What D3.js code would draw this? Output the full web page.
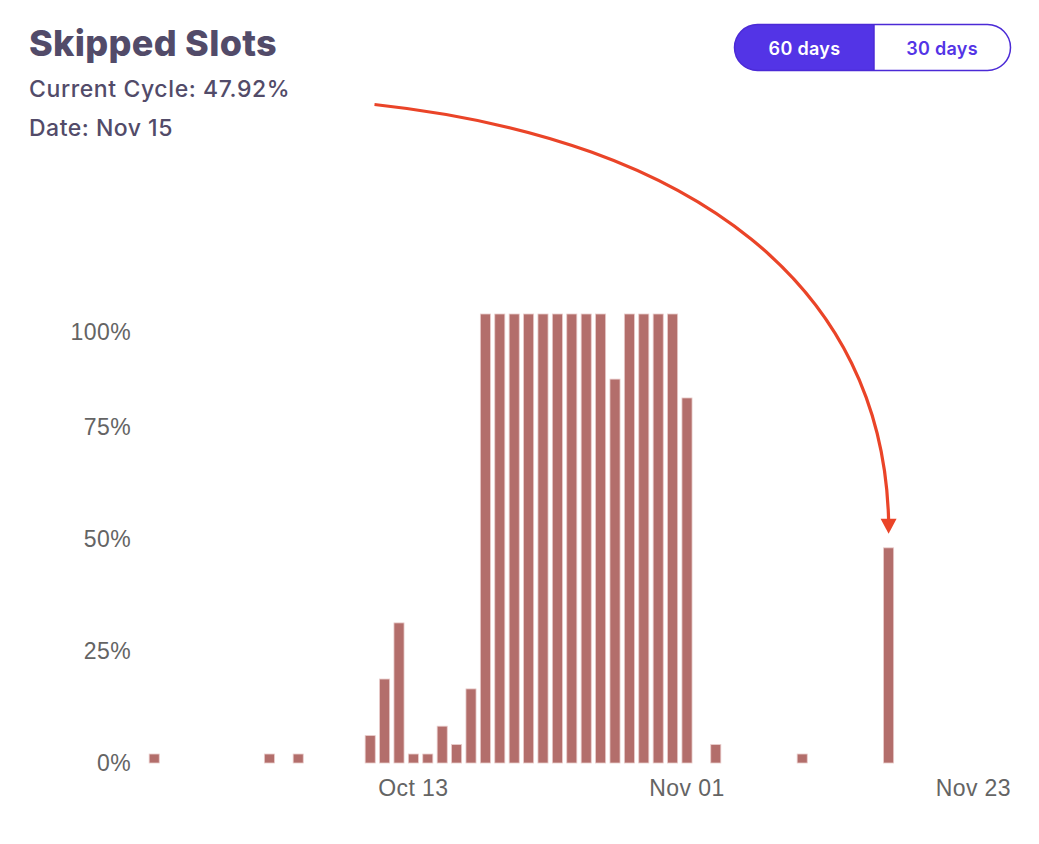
<!DOCTYPE html>
<html>
<head>
<meta charset="utf-8">
<script src="https://cdn.jsdelivr.net/npm/d3@7"></script>
<style>
  body { margin: 0; background: #fff; }
  svg { display: block; font-family: Inter, "Open Sans", sans-serif; }
  .tick text { fill: #646464; font-size: 23px; font-weight: 500; letter-spacing: 0.4px; }
</style>
</head>
<body>
<div id="chart"></div>
<script>
// Chart data
var startDay = "2023-09-25";
var endDay = "2023-11-23";
var barDays = ["2023-09-25", "2023-10-03", "2023-10-05", "2023-10-10", "2023-10-11",
  "2023-10-12", "2023-10-13", "2023-10-14", "2023-10-15", "2023-10-16", "2023-10-17",
  "2023-10-18", "2023-10-19", "2023-10-20", "2023-10-21", "2023-10-22", "2023-10-23",
  "2023-10-24", "2023-10-25", "2023-10-26", "2023-10-27", "2023-10-28", "2023-10-29",
  "2023-10-30", "2023-10-31", "2023-11-01", "2023-11-03", "2023-11-09", "2023-11-15"];
var skipped = [2, 2, 2, 6.1, 18.7,
  31.2, 2, 2, 8.2, 4.1, 16.5,
  100, 100, 100, 100, 100, 100,
  100, 100, 100, 85.5, 100, 100,
  100, 100, 81.3, 4.1, 2, 47.92];
var yTicks = [0, 0.25, 0.5, 0.75, 1];
var xTicks = ["2023-10-13", "2023-11-01", "2023-11-23"];
var buttons = ["60 days", "30 days"];

var svgWidth = 1039;
var svgHeight = 844;

var margin = { top: 314, right: 28, bottom: 81, left: 147 };
var width = svgWidth - margin.left - margin.right;
var height = svgHeight - margin.top - margin.bottom;

var parseDay = d3.utcParse("%Y-%m-%d");
var fmtDay = d3.utcFormat("%Y-%m-%d");
var labelDay = d3.utcFormat("%b %d");

// every day of the 60 day window is a band
var allDays = d3.utcDay.range(parseDay(startDay), d3.utcDay.offset(parseDay(endDay), 1)).map(fmtDay);

var barData = barDays.map(function(d, i) {
  return { day: d, value: skipped[i] / 100 };
});

var svg = d3.select("#chart")
  .append("svg")
  .attr("width", svgWidth)
  .attr("height", svgHeight);

// Header
svg.append("text")
  .attr("x", 29).attr("y", 56)
  .attr("fill", "#524b69")
  .attr("font-size", 36)
  .attr("font-weight", 800)
  .attr("letter-spacing", 0.3)
  .text("Skipped Slots");

svg.append("text")
  .attr("x", 29).attr("y", 97)
  .attr("fill", "#524b69")
  .attr("font-size", 23)
  .attr("font-weight", 500)
  .attr("letter-spacing", 0.6)
  .text("Current Cycle: 47.92%");

svg.append("text")
  .attr("x", 29).attr("y", 136)
  .attr("fill", "#524b69")
  .attr("font-size", 23)
  .attr("font-weight", 500)
  .attr("letter-spacing", 0.5)
  .text("Date: Nov 15");

// Toggle buttons
var btn = svg.append("g").attr("transform", "translate(734.5, 24.5)");
btn.append("path")
  .attr("d", "M23,0 H139.5 V46 H23 A23,23 0 0 1 23,0 Z")
  .attr("fill", "#5334e6");
btn.append("rect")
  .attr("width", 276).attr("height", 46)
  .attr("rx", 23)
  .attr("fill", "none")
  .attr("stroke", "#4b2ad6")
  .attr("stroke-width", 1.5);
btn.append("line")
  .attr("x1", 139.5).attr("x2", 139.5)
  .attr("y1", 0).attr("y2", 46)
  .attr("stroke", "#4b2ad6")
  .attr("stroke-width", 1.5);
btn.selectAll("text.btn")
  .data(buttons)
  .enter()
  .append("text")
  .attr("class", "btn")
  .attr("x", (d, i) => i === 0 ? 70 : 207.5)
  .attr("y", 30)
  .attr("text-anchor", "middle")
  .attr("font-size", 18)
  .attr("font-weight", 600)
  .attr("letter-spacing", 0.3)
  .attr("fill", (d, i) => i === 0 ? "#ffffff" : "#5334e6")
  .text(d => d);

var chartGroup = svg.append("g")
  .attr("transform", `translate(${margin.left}, ${margin.top})`);

// Scales
var xScale = d3.scaleBand()
  .domain(allDays)
  .range([0, width])
  .paddingInner(0.3)
  .paddingOuter(0.15);

var yScale = d3.scaleLinear()
  .domain([0, 1])
  .range([height, 0]);

// Axes
var leftAxis = d3.axisLeft(yScale)
  .tickValues(yTicks)
  .tickFormat(d3.format(".0%"))
  .tickSize(0)
  .tickPadding(16);

var bottomAxis = d3.axisBottom(xScale)
  .tickValues(xTicks)
  .tickFormat(d => labelDay(parseDay(d)))
  .tickSize(0)
  .tickPadding(17);

var yAxisG = chartGroup.append("g").call(leftAxis);
yAxisG.select(".domain").remove();
// top label sits a bit lower, as in the original
yAxisG.selectAll(".tick text")
  .attr("dy", d => d === 1 ? "1.12em" : "0.34em");

var xAxisG = chartGroup.append("g")
  .attr("transform", `translate(0, ${height})`)
  .call(bottomAxis);
xAxisG.select(".domain").remove();
xAxisG.selectAll(".tick text")
  .attr("text-anchor", d => d === endDay ? "end" : "middle")
  .attr("dx", d => d === endDay ? xScale.bandwidth() / 2 + xScale.step() * 0.15 : 0);

// Bars
chartGroup.selectAll("rect.bar")
  .data(barData)
  .enter()
  .append("rect")
  .attr("class", "bar")
  .attr("x", d => xScale(d.day))
  .attr("y", d => yScale(Math.max(d.value, 0.02)))
  .attr("width", xScale.bandwidth())
  .attr("height", d => height - yScale(Math.max(d.value, 0.02)))
  .attr("fill", "#b36e6b")
  .attr("stroke", "#e9cccb")
  .attr("stroke-width", 0.8);

// Annotation arrow pointing to the current cycle bar
var current = barData[barData.length - 1];
var tipX = margin.left + xScale(current.day) + xScale.bandwidth() / 2;
var tipY = margin.top + yScale(current.value) - 14;

svg.append("path")
  .attr("d", `M374.5,104.5 C700,140 ${tipX - 6},290 ${tipX},${tipY - 14}`)
  .attr("fill", "none")
  .attr("stroke", "#ea4428")
  .attr("stroke-width", 3.2);

svg.append("path")
  .attr("d", `M${tipX - 8},${tipY - 15} L${tipX + 8},${tipY - 15} L${tipX},${tipY} Z`)
  .attr("fill", "#ea4428");
</script>
</body>
</html>
